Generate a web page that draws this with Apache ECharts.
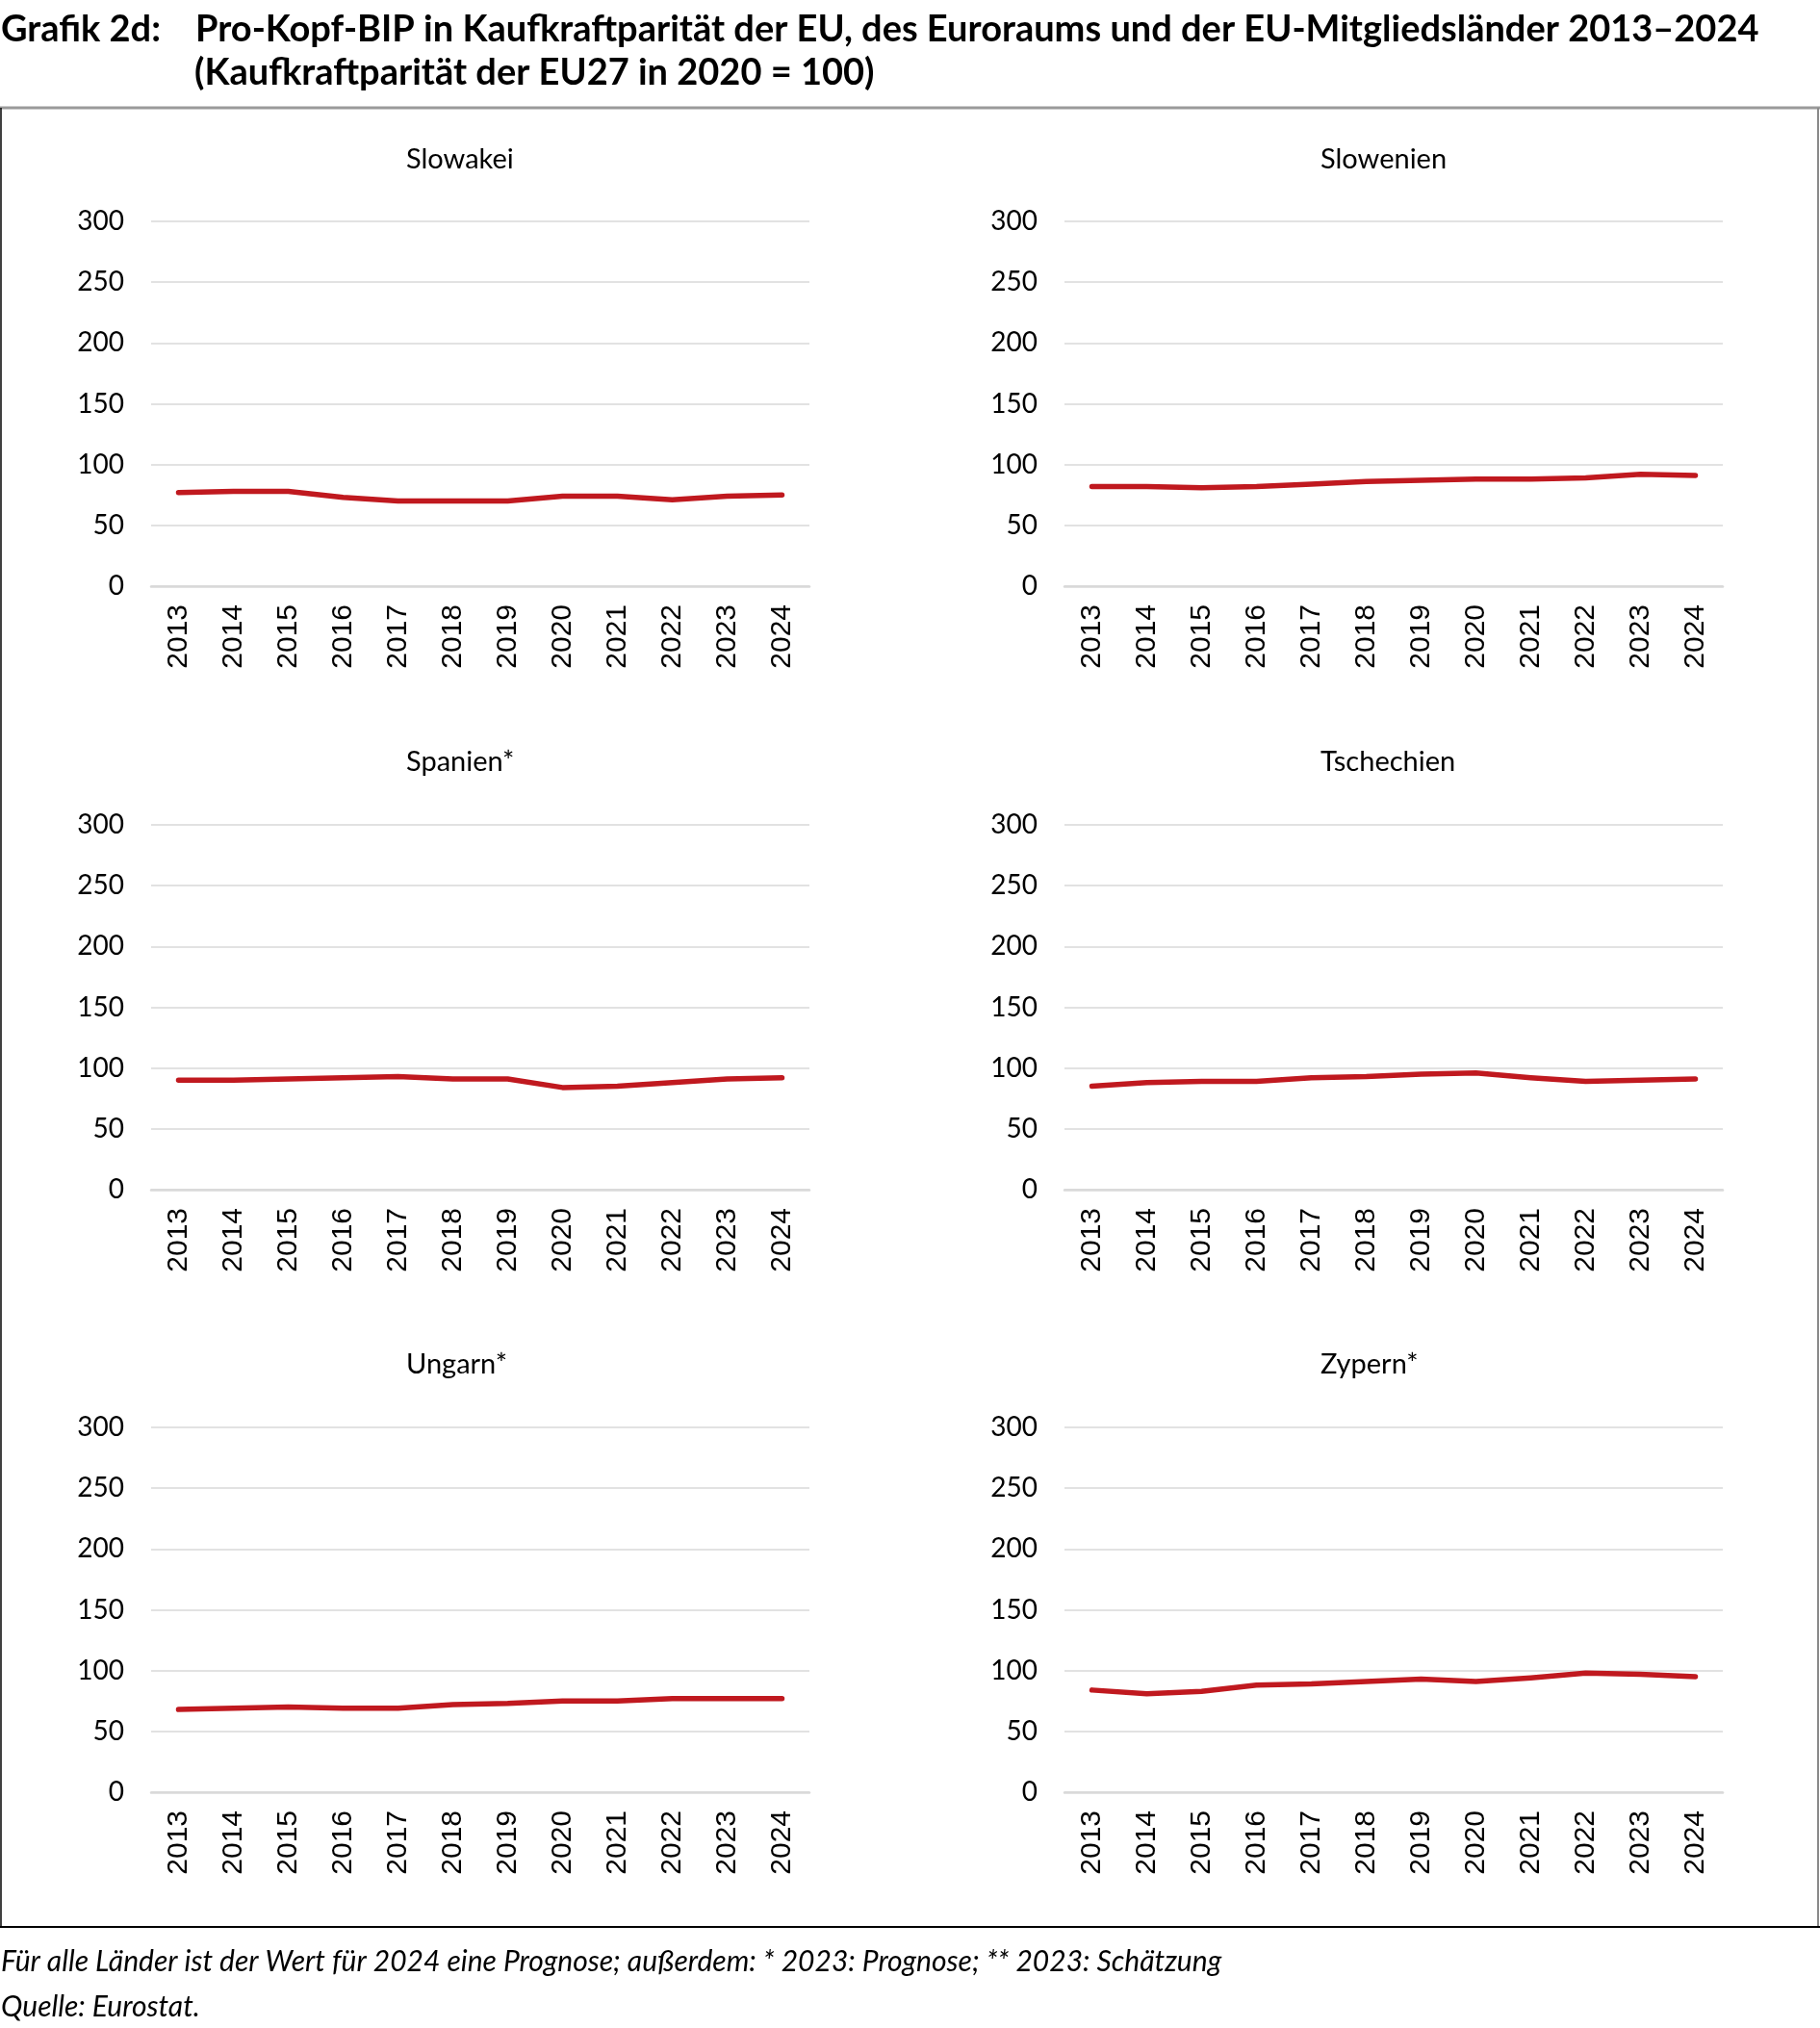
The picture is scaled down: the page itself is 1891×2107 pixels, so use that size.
<!DOCTYPE html>
<html>
<head>
<meta charset="utf-8">
<script src="https://cdn.jsdelivr.net/npm/echarts@6/dist/echarts.min.js"></script>
<style>
html,body{margin:0;padding:0;background:#fff;}
#c{width:1891px;height:2107px;}
</style>
</head>
<body>
<div id="c"></div>
<script>
// ---- data ----
const years = ['2013','2014','2015','2016','2017','2018','2019','2020','2021','2022','2023','2024'];
const yTicks = [0, 50, 100, 150, 200, 250, 300];
const panelTitles = ['Slowakei', 'Slowenien', 'Spanien*', 'Tschechien', 'Ungarn*', 'Zypern*'];
const slowakei   = [77, 78, 78, 73, 70, 70, 70, 74, 74, 71, 74, 75];
const slowenien  = [82, 82, 81, 82, 84, 86, 87, 88, 88, 89, 92, 91];
const spanien    = [90, 90, 91, 92, 93, 91, 91, 84, 85, 88, 91, 92];
const tschechien = [85, 88, 89, 89, 92, 93, 95, 96, 92, 89, 90, 91];
const ungarn     = [68, 69, 70, 69, 69, 72, 73, 75, 75, 77, 77, 77];
const zypern     = [84, 81, 83, 88, 89, 91, 93, 91, 94, 98, 97, 95];
const seriesData = [slowakei, slowenien, spanien, tschechien, ungarn, zypern];

// ---- layout ----
const colLeft = [157, 1106];
const rowTop = [230, 857, 1483];
const titleX = [422, 1372];
const titleY = [166, 792, 1418];
const gw = 684, gh = 379;
const lineColor = '#C0191F';

const grids = [], xAxes = [], yAxes = [], series = [], graphics = [];
for (let i = 0; i < 6; i++) {
  const c = i % 2, r = Math.floor(i / 2);
  grids.push({left: colLeft[c], top: rowTop[r], width: gw, height: gh, containLabel: false});
  xAxes.push({
    type: 'category', gridIndex: i, data: years, boundaryGap: true,
    axisLine: {show: true, lineStyle: {color: '#D9D9D9', width: 2.5}},
    axisTick: {show: false},
    axisLabel: {rotate: 90, margin: 19, fontFamily: 'Liberation Sans, Arial', fontSize: 30, color: '#000', interval: 0}
  });
  yAxes.push({
    type: 'value', gridIndex: i, min: yTicks[0], max: yTicks[yTicks.length - 1], interval: 50,
    axisLine: {show: false}, axisTick: {show: false},
    axisLabel: {margin: 28, fontFamily: 'Lato', fontSize: 28, color: '#000'},
    splitLine: {lineStyle: {color: '#D9D9D9', width: 1.5}}
  });
  series.push({
    type: 'line', xAxisIndex: i, yAxisIndex: i, data: seriesData[i],
    symbol: 'none', smooth: false, silent: true,
    lineStyle: {color: lineColor, width: 5.5, cap: 'round', join: 'round'}
  });
  graphics.push({
    type: 'text', x: titleX[c], y: titleY[r],
    style: {
      text: panelTitles[i], font: '29px Lato', fill: '#000',
      textAlign: 'left', textVerticalAlign: 'middle'
    }
  });
}

// header / footer texts
const hdr = 'bold 38px Lato';
graphics.push({type: 'text', x: 1, y: 31, style: {text: 'Grafik 2d:', font: hdr, fill: '#000', textVerticalAlign: 'middle'}});
graphics.push({type: 'text', x: 203, y: 31, style: {text: 'Pro-Kopf-BIP in Kaufkraftparität der EU, des Euroraums und der EU-Mitgliedsländer 2013–2024', font: hdr, fill: '#000', textVerticalAlign: 'middle'}});
graphics.push({type: 'text', x: 202, y: 76, style: {text: '(Kaufkraftparität der EU27 in 2020 = 100)', font: hdr, fill: '#000', textVerticalAlign: 'middle'}});
const ft = 'italic 30px Lato';
graphics.push({type: 'text', x: 1, y: 2038, style: {text: 'Für alle Länder ist der Wert für 2024 eine Prognose; außerdem: * 2023: Prognose; ** 2023: Schätzung', font: ft, fill: '#000', textVerticalAlign: 'middle'}});
graphics.push({type: 'text', x: 1, y: 2085, style: {text: 'Quelle: Eurostat.', font: ft, fill: '#000', textVerticalAlign: 'middle'}});

// frame
graphics.push({type: 'line', shape: {x1: 0, y1: 112, x2: 1891, y2: 112}, style: {stroke: '#9a9a9a', lineWidth: 3}});
graphics.push({type: 'line', shape: {x1: 1, y1: 112, x2: 1, y2: 2002}, style: {stroke: '#000', lineWidth: 1.5}});
graphics.push({type: 'line', shape: {x1: 1889, y1: 112, x2: 1889, y2: 2002}, style: {stroke: '#8a8a8a', lineWidth: 2}});
graphics.push({type: 'line', shape: {x1: 0, y1: 2002, x2: 1891, y2: 2002}, style: {stroke: '#000', lineWidth: 2}});

const chart = echarts.init(document.getElementById('c'), null, {renderer: 'canvas'});
chart.setOption({
  animation: false,
  backgroundColor: '#fff',
  grid: grids,
  xAxis: xAxes,
  yAxis: yAxes,
  series: series,
  graphic: graphics
});
</script>
</body>
</html>
